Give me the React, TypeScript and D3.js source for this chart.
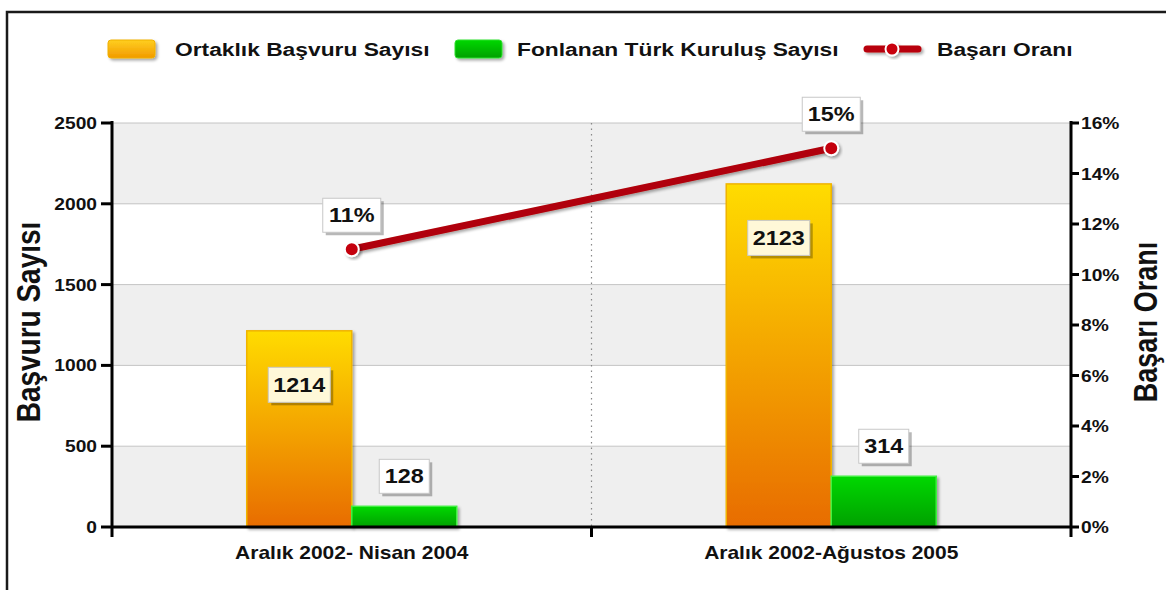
import React from "react";
import * as d3 from "d3";

const categories = ["Aralık 2002- Nisan 2004", "Aralık 2002-Ağustos 2005"];
const applications = [1214, 2123];
const funded = [128, 314];
const successRate = [11, 15];
const leftTicks = [0, 500, 1000, 1500, 2000, 2500];
const rightTicks = [0, 2, 4, 6, 8, 10, 12, 14, 16];
const seriesNames = ["Ortaklık Başvuru Sayısı", "Fonlanan Türk Kuruluş Sayısı", "Başarı Oranı"];
const axisTitles = ["Başvuru Sayısı", "Başarı Oranı"];

const W = 1166, H = 590;
const L = 112, R = 1071, T = 123, B = 527;
const SX = 1.2;
const FONT = "'Liberation Sans', Arial, Helvetica, sans-serif";

function Txt({ x, y, size, anchor = "start", children, rotate = false, fill = "#111" }: any) {
  return (
    <g transform={`translate(${x},${y}) scale(${SX},1)${rotate ? " rotate(-90)" : ""}`}>
      <text x={0} y={0} fontSize={size} fontWeight="bold" fontFamily={FONT} textAnchor={anchor} fill={fill}>
        {children}
      </text>
    </g>
  );
}

function LabelBox({ cx, cy, w, h, text, fill = "#ffffff" }: any) {
  return (
    <g>
      <rect x={cx - w / 2 + 3} y={cy - h / 2 + 3} width={w} height={h} fill="#000" opacity={0.28} />
      <rect x={cx - w / 2} y={cy - h / 2} width={w} height={h} fill={fill} stroke="#c8c8c8" strokeWidth={1} />
      <Txt x={cx} y={cy + 7} size={19.5} anchor="middle">{text}</Txt>
    </g>
  );
}

export default function App() {
  const x = d3.scaleBand<string>().domain(categories).range([L, R]).padding(0);
  const inner = d3.scaleBand<string>().domain(["a", "f"]).range([-105, 105]);
  const yL = d3.scaleLinear().domain([0, 2500]).range([B, T]);
  const yR = d3.scaleLinear().domain([0, 16]).range([B, T]);
  const cx = (c: string) => (x(c) as number) + x.bandwidth() / 2;

  const linePts: [number, number][] = categories.map((c, i) => [cx(c), yR(successRate[i])]);
  const line = d3.line()(linePts) as string;

  const bands = leftTicks.slice(0, -1).map((t, i) => ({ t0: t, t1: leftTicks[i + 1], gray: i % 2 === 0 }));

  return (
    <svg width={W} height={H} style={{ position: "absolute", left: 0, top: 0 }} xmlns="http://www.w3.org/2000/svg">
      <defs>
        <linearGradient id="gOr" x1="0" y1="0" x2="0" y2="1">
          <stop offset="0" stopColor="#ffdc00" />
          <stop offset="1" stopColor="#e86c00" />
        </linearGradient>
        <linearGradient id="gGr" x1="0" y1="0" x2="0" y2="1">
          <stop offset="0" stopColor="#00d800" />
          <stop offset="1" stopColor="#00a000" />
        </linearGradient>
        <linearGradient id="gOrL" x1="0" y1="0" x2="0" y2="1">
          <stop offset="0" stopColor="#ffcf20" />
          <stop offset="1" stopColor="#f29a00" />
        </linearGradient>
        <filter id="sh" x="-20%" y="-20%" width="150%" height="150%">
          <feGaussianBlur in="SourceAlpha" stdDeviation="1.5" />
          <feOffset dx="2" dy="2" result="o" />
          <feComponentTransfer><feFuncA type="linear" slope="0.35" /></feComponentTransfer>
          <feMerge><feMergeNode /><feMergeNode in="SourceGraphic" /></feMerge>
        </filter>
      </defs>
      <rect x={0} y={0} width={W} height={H} fill="#fff" />
      <path d={`M7,${H} L7,12 L${W},12`} fill="none" stroke="#1a1a1a" strokeWidth={2.5} />

      {/* Legend */}
      <rect x={108} y={40} width={47} height={18} rx={3} fill="url(#gOrL)" stroke="#f0b000" strokeWidth={1} filter="url(#sh)" />
      <Txt x={175} y={56} size={19}>{seriesNames[0]}</Txt>
      <rect x={455} y={40} width={47} height={18} rx={3} fill="url(#gGr)" stroke="#30e030" strokeWidth={1} filter="url(#sh)" />
      <Txt x={517} y={56} size={19}>{seriesNames[1]}</Txt>
      <g filter="url(#sh)">
        <line x1={867} y1={49} x2={918} y2={49} stroke="#b80008" strokeWidth={7} strokeLinecap="round" />
        <circle cx={892} cy={49} r={6.5} fill="#c8000c" stroke="#fff" strokeWidth={2} />
      </g>
      <Txt x={937} y={56} size={19}>{seriesNames[2]}</Txt>

      {/* Bands & grid */}
      {bands.map((b, i) => (
        <rect key={i} x={L} y={yL(b.t1)} width={R - L} height={yL(b.t0) - yL(b.t1)} fill={b.gray ? "#efefef" : "#ffffff"} />
      ))}
      {leftTicks.map((t) => (
        <line key={t} x1={L} x2={R} y1={yL(t)} y2={yL(t)} stroke="#c4c4c4" strokeWidth={1} />
      ))}
      <line x1={(L + R) / 2} x2={(L + R) / 2} y1={T} y2={B} stroke="#888" strokeWidth={1.2} strokeDasharray="1.5,4" />

      {/* Bars */}
      {categories.map((c, i) => {
        const ox = cx(c) + (inner("a") as number);
        const gx = cx(c) + (inner("f") as number);
        const bw = inner.bandwidth();
        return (
          <g key={c}>
            <rect x={ox} y={yL(applications[i])} width={bw} height={B - yL(applications[i])} fill="url(#gOr)" stroke="#f0b400" strokeWidth={1.5} filter="url(#sh)" />
            <rect x={gx} y={yL(funded[i])} width={bw} height={B - yL(funded[i])} fill="url(#gGr)" stroke="#40f040" strokeWidth={1.5} filter="url(#sh)" />
          </g>
        );
      })}

      {/* Line */}
      <path d={line} fill="none" stroke="#b00008" strokeWidth={7} strokeLinecap="round" filter="url(#sh)" />
      {linePts.map((p, i) => (
        <circle key={i} cx={p[0]} cy={p[1]} r={7} fill="#c4000c" stroke="#fff" strokeWidth={2} filter="url(#sh)" />
      ))}

      {/* Data labels */}
      {categories.map((c, i) => {
        const ox = cx(c) + (inner("a") as number) + inner.bandwidth() / 2;
        const gx = cx(c) + (inner("f") as number) + inner.bandwidth() / 2;
        return (
          <g key={c}>
            <LabelBox cx={ox} cy={yL(applications[i]) + 54} w={62} h={35} text={String(applications[i])} fill="#fff8d8" />
            <LabelBox cx={gx} cy={yL(funded[i]) - 30} w={50} h={34} text={String(funded[i])} />
            <LabelBox cx={linePts[i][0]} cy={linePts[i][1] - 34} w={58} h={34} text={`${successRate[i]}%`} />
          </g>
        );
      })}

      {/* Axes */}
      <line x1={L} x2={L} y1={T - 2} y2={B + 10} stroke="#000" strokeWidth={3} />
      <line x1={R} x2={R} y1={T - 2} y2={B + 10} stroke="#000" strokeWidth={3} />
      <line x1={L} x2={R} y1={B} y2={B} stroke="#000" strokeWidth={3} />
      <line x1={(L + R) / 2} x2={(L + R) / 2} y1={B} y2={B + 10} stroke="#000" strokeWidth={3} />
      {leftTicks.map((t) => (
        <g key={t}>
          <line x1={L - 11} x2={L} y1={yL(t)} y2={yL(t)} stroke="#000" strokeWidth={3} />
          <Txt x={L - 15} y={yL(t) + 6} size={16} anchor="end">{String(t)}</Txt>
        </g>
      ))}
      {rightTicks.map((t) => (
        <g key={t}>
          <line x1={R} x2={R + 8} y1={yR(t)} y2={yR(t)} stroke="#000" strokeWidth={3} />
          <Txt x={R + 10} y={yR(t) + 6} size={16}>{`${t}%`}</Txt>
        </g>
      ))}
      {categories.map((c) => (
        <Txt key={c} x={cx(c)} y={559} size={17.5} anchor="middle">{c}</Txt>
      ))}

      <Txt x={40} y={322} size={28} anchor="middle" rotate>{axisTitles[0]}</Txt>
      <Txt x={1157} y={322} size={27} anchor="middle" rotate>{axisTitles[1]}</Txt>
    </svg>
  );
}
